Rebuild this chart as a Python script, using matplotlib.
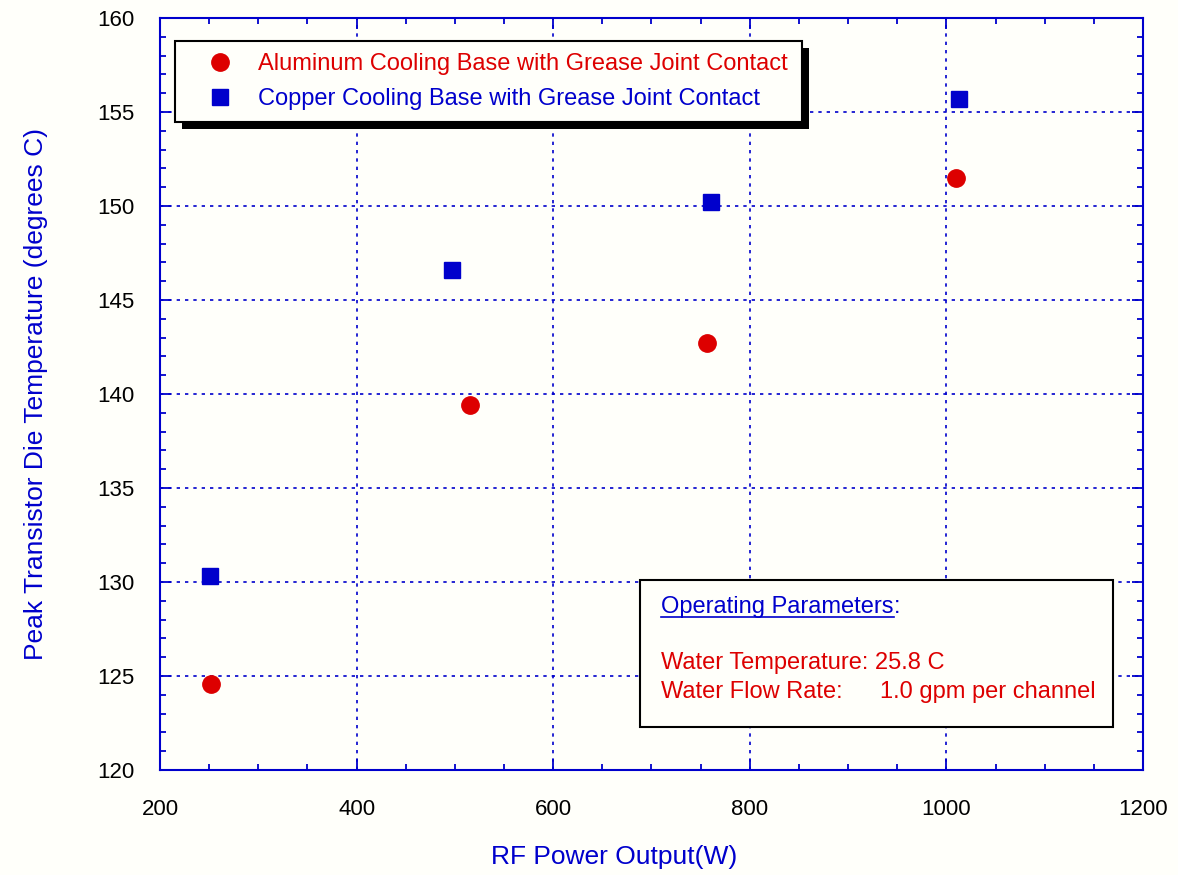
import matplotlib
matplotlib.use('Agg')
import matplotlib.pyplot as plt
from matplotlib.patches import Rectangle
from matplotlib.lines import Line2D
from matplotlib.ticker import MultipleLocator

# data
al_power = [252, 515, 756, 1010]
al_temp = [124.6, 139.4, 142.7, 151.5]
cu_power = [251, 497, 761, 1013]
cu_temp = [130.3, 146.6, 150.2, 155.7]

al_label = 'Aluminum Cooling Base with Grease Joint Contact'
cu_label = 'Copper Cooling Base with Grease Joint Contact'

RED = '#dd0000'
BLUE = '#0000cc'
BG = '#fffffa'

plt.rcParams['font.family'] = ['Liberation Sans', 'DejaVu Sans']
plt.rcParams['font.size'] = 16

fig = plt.figure(figsize=(11.78, 8.75), dpi=100, facecolor=BG)
ax = fig.add_axes([0.1358, 0.12, 0.8345, 0.8594], facecolor=BG)

ax.plot(al_power, al_temp, 'o', color=RED, markersize=12.5, label=al_label, zorder=5)
ax.plot(cu_power, cu_temp, 's', color=BLUE, markersize=11.5, label=cu_label, zorder=5)

ax.set_xlim(200, 1200)
ax.set_ylim(120, 160)
ax.xaxis.set_major_locator(MultipleLocator(200))
ax.xaxis.set_minor_locator(MultipleLocator(50))
ax.yaxis.set_major_locator(MultipleLocator(5))
ax.yaxis.set_minor_locator(MultipleLocator(1))

ax.grid(True, which='major', color=BLUE, linestyle=(0, (2, 3)), linewidth=1.2)
for s in ax.spines.values():
    s.set_color(BLUE)
    s.set_linewidth(1.5)

ax.tick_params(which='both', direction='in', top=True, right=True, color=BLUE,
               labelcolor='black')
ax.tick_params(which='major', length=8, width=1.3)
ax.tick_params(which='minor', length=4.5, width=1.3)
ax.tick_params(axis='x', which='major', pad=21)
ax.tick_params(axis='y', which='major', pad=18)

ax.set_xlabel('RF Power Output(W)', color=BLUE, fontsize=19)
ax.xaxis.set_label_coords(0.462, -0.1)
ax.set_ylabel('Peak Transistor Die Temperature (degrees C)', color=BLUE,
              labelpad=36, fontsize=19)

leg = ax.legend(loc='upper left', bbox_to_anchor=(0.0153, 0.9694, 0.638, 0.0),
                mode='expand', frameon=True, fancybox=False, borderpad=0.5,
                labelspacing=0.55, handlelength=2.85, handletextpad=0.15,
                borderaxespad=0, facecolor=BG, edgecolor='black',
                framealpha=1, fontsize=17)
leg.get_frame().set_linewidth(1.5)
leg.set_zorder(10)
for txt, c in zip(leg.get_texts(), [RED, BLUE]):
    txt.set_color(c)

# operating parameters box
ax.add_patch(Rectangle((0.488, 0.0572), 0.4815, 0.1955, transform=ax.transAxes,
                       facecolor=BG, edgecolor='black', linewidth=1.5, zorder=8))
t_head = ax.text(0.5097, 0.2168, 'Operating Parameters', color=BLUE, fontsize=17,
                 transform=ax.transAxes, va='center', ha='left', zorder=9)
ax.text(0.5097, 0.1423, 'Water Temperature: 25.8 C', color=RED, fontsize=17,
        transform=ax.transAxes, va='center', ha='left', zorder=9)
ax.text(0.5097, 0.1037, 'Water Flow Rate:', color=RED, fontsize=17,
        transform=ax.transAxes, va='center', ha='left', zorder=9)
ax.text(0.7325, 0.1037, '1.0 gpm per channel', color=RED, fontsize=17,
        transform=ax.transAxes, va='center', ha='left', zorder=9)

fig.canvas.draw()
r = fig.canvas.get_renderer()

# colon + underline after the heading
bb = t_head.get_window_extent(r)
inv = ax.transAxes.inverted()
(x0, y0), (x1, y1) = inv.transform([[bb.x0, bb.y0], [bb.x1, bb.y1]])
ax.text(x1, 0.2168, ':', color=BLUE, fontsize=17, transform=ax.transAxes,
        va='center', ha='left', zorder=9)
ax.add_line(Line2D([x0, x1], [y0 + 0.001, y0 + 0.001], color=BLUE, linewidth=1.2,
                   transform=ax.transAxes, zorder=9))

# black drop shadow behind the legend
lb = leg.get_window_extent(r)
ax.add_patch(Rectangle((lb.x0 + 7, lb.y0 - 7), lb.width, lb.height,
                       transform=None, facecolor='black', edgecolor='none',
                       zorder=9.5, clip_on=False))

fig.savefig('out.png', dpi=100, facecolor=BG)
